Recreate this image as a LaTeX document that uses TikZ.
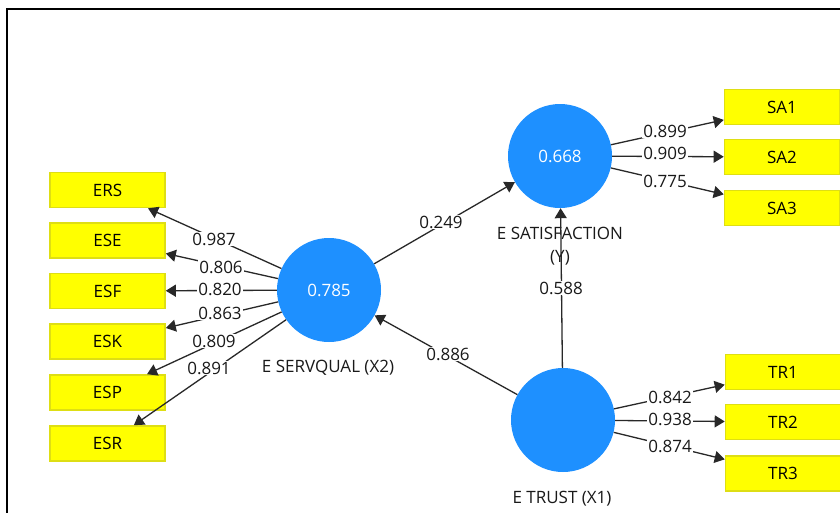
\documentclass[tikz,border=0pt]{standalone}
\usepackage{fontspec}
\setmainfont{Open Sans}
\usetikzlibrary{arrows.meta}
\definecolor{lvblue}{RGB}{30,144,255}
\definecolor{mvfill}{RGB}{255,255,0}
\definecolor{mvline}{RGB}{222,222,20}
\definecolor{pathgray}{RGB}{40,40,40}
\tikzset{
  latent/.style={circle, fill=lvblue, draw=none, minimum size=104pt, inner sep=0pt,
    text=white, font=\fontsize{17}{20}\selectfont},
  indicator/.style={rectangle, fill=mvfill, draw=mvline, line width=1.6pt,
    minimum width=115pt, minimum height=35pt, inner sep=0pt,
    font=\fontsize{17}{20}\selectfont},
  lvname/.style={font=\fontsize{17}{23}\selectfont, text=black!90, align=center, inner sep=0pt},
  coef/.style={fill=white, inner sep=1pt, font=\fontsize{17}{20}\selectfont, text=black!90},
  pathline/.style={draw=pathgray, line width=1.3pt, -{Triangle[length=10pt,width=12pt]}},
}
\begin{document}
\begin{tikzpicture}[x=1pt,y=-1pt]
\useasboundingbox (0,0) rectangle (840,512);
\fill[white] (0,0) rectangle (840,512);
% panel frame
\draw[line width=2pt] (7,530) -- (7,9) -- (860,9);

% latent variables
\node[latent] (sq)    at (329,290) {0.785};
\node[latent] (sat)   at (560,156) {0.668};
\node[latent] (trust) at (563,420) {};

\node[lvname] (sqname)    at (328,368) {E SERVQUAL (X2)};
\node[lvname] (satname)   at (560,246) {E SATISFACTION\\(Y)};
\node[lvname] (trustname) at (562,499) {E TRUST (X1)};

% indicators of E SERVQUAL
\node[indicator] (ers) at (107.5,190)   {ERS};
\node[indicator] (ese) at (107.5,240.5) {ESE};
\node[indicator] (esf) at (107.5,291)   {ESF};
\node[indicator] (esk) at (107.5,341.5) {ESK};
\node[indicator] (esp) at (107.5,392.5) {ESP};
\node[indicator] (esr) at (107.5,443.5) {ESR};

% indicators of E SATISFACTION
\node[indicator] (sa1) at (782,107) {SA1};
\node[indicator] (sa2) at (782,157) {SA2};
\node[indicator] (sa3) at (782,208) {SA3};

% indicators of E TRUST
\node[indicator] (tr1) at (783,372)   {TR1};
\node[indicator] (tr2) at (783,422)   {TR2};
\node[indicator] (tr3) at (783,473.5) {TR3};

% outer loadings
\foreach \t in {ers,ese,esf,esk,esp,esr} \draw[pathline] (sq) -- (\t);
\foreach \t in {sa1,sa2,sa3} \draw[pathline] (sat) -- (\t);
\foreach \t in {tr1,tr2,tr3} \draw[pathline] (trust) -- (\t);

% structural paths
\draw[pathline] (sq) -- (sat);
\draw[pathline] (trust) -- (sq);
\draw[pathline] (trust) -- (sat);

% coefficients
\node[coef] (c1) at (214,239) {0.987};
\node[coef] (c2) at (221,267) {0.806};
\node[coef] (c3) at (220,289) {0.820};
\node[coef] (c4) at (220,313) {0.863};
\node[coef] (c5) at (214,341) {0.809};
\node[coef] (c6) at (209,368) {0.891};

\node[coef] (c7) at (441,222) {0.249};
\node[coef] (c8) at (448,354) {0.886};
\node[coef] (c9) at (561,288) {0.588};

\node[coef] (c10) at (665,131) {0.899};
\node[coef] (c11) at (665,153) {0.909};
\node[coef] (c12) at (665,181) {0.775};

\node[coef] (c13) at (670,397) {0.842};
\node[coef] (c14) at (670,419) {0.938};
\node[coef] (c15) at (670,446) {0.874};
\end{tikzpicture}
\end{document}
